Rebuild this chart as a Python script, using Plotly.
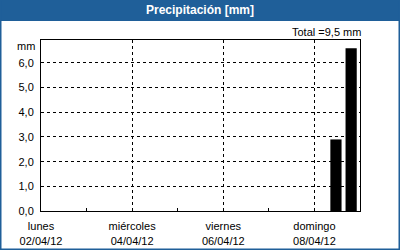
import plotly.graph_objects as go

# ---- data ----
bar_times = ["2012-04-08 11:20", "2012-04-08 19:20"]
precip = [2.9, 6.6]
major_days = ["2012-04-02", "2012-04-04", "2012-04-06", "2012-04-08"]
major_labels = ["lunes<br>02/04/12", "miércoles<br>04/04/12", "viernes<br>06/04/12", "domingo<br>08/04/12"]
minor_days = ["2012-04-03", "2012-04-05", "2012-04-07", "2012-04-09"]
x_range = ["2012-04-02", "2012-04-09"]
y_ticks = [0, 1, 2, 3, 4, 5, 6]
y_max = 6.93
total_text = "Total =9,5 mm"
title_text = "Precipitación [mm]"

W, H = 400, 250
ml, mr, mt, mb = 41, 40, 40, 39
pw, ph = W - ml - mr, H - mt - mb
BLUE = "#1F5F99"
FONT = "Liberation Sans"


def px(x):
    return (x - ml) / pw


def py(y):
    return (H - mb - y) / ph


fig = go.Figure()
fig.add_trace(go.Bar(
    x=bar_times, y=precip,
    width=5.9 * 3600 * 1000,
    marker=dict(color="black", line=dict(width=0)),
    showlegend=False,
))

fig.update_layout(
    width=W, height=H,
    margin=dict(l=ml, r=mr, t=mt, b=mb, pad=0),
    paper_bgcolor="white", plot_bgcolor="white",
    separators=",.",
    font=dict(family=FONT, size=11, color="black"),
    xaxis=dict(
        type="date", range=x_range,
        tickvals=major_days, ticktext=major_labels,
        ticks="inside", ticklen=3, tickcolor="black",
        showgrid=True, gridcolor="black", griddash="3px,3px", gridwidth=1,
        showline=True, linecolor="black", linewidth=1, mirror=True,
        minor=dict(tickvals=minor_days, ticks="inside", ticklen=3, tickcolor="black", showgrid=False),
        tickfont=dict(family=FONT, size=11, color="black"),
        ticklabelstandoff=5,
        automargin=False,
        fixedrange=True,
    ),
    yaxis=dict(
        range=[0, y_max], tickvals=y_ticks, tickformat=".1f",
        ticks="", showgrid=True, gridcolor="black", griddash="3px,3px", gridwidth=1,
        zeroline=False,
        showline=True, linecolor="black", linewidth=1, mirror=True,
        tickfont=dict(family=FONT, size=11, color="black"),
        ticklabelstandoff=4,
        automargin=False,
        fixedrange=True,
    ),
    shapes=[
        dict(type="rect", xref="paper", yref="paper", x0=px(0), x1=px(W), y0=py(21), y1=py(0),
             fillcolor=BLUE, line=dict(width=0), layer="above"),
        dict(type="rect", xref="paper", yref="paper", x0=px(0.5), x1=px(W - 0.5), y0=py(H - 0.5), y1=py(0),
             fillcolor="rgba(0,0,0,0)", line=dict(color=BLUE, width=2), layer="above"),
    ],
    annotations=[
        dict(text="<b>" + title_text + "</b>", xref="paper", yref="paper", x=px(W / 2), y=py(10.5),
             xanchor="center", yanchor="middle", showarrow=False,
             font=dict(family=FONT, size=12, color="white")),
        dict(text=total_text, xref="paper", yref="paper", x=px(363), y=py(32),
             xanchor="right", yanchor="middle", showarrow=False,
             font=dict(family=FONT, size=11, color="black")),
        dict(text="mm", xref="paper", yref="paper", x=px(37), y=py(46),
             xanchor="right", yanchor="middle", showarrow=False,
             font=dict(family=FONT, size=11, color="black")),
    ],
)

fig.write_html("out.html")
